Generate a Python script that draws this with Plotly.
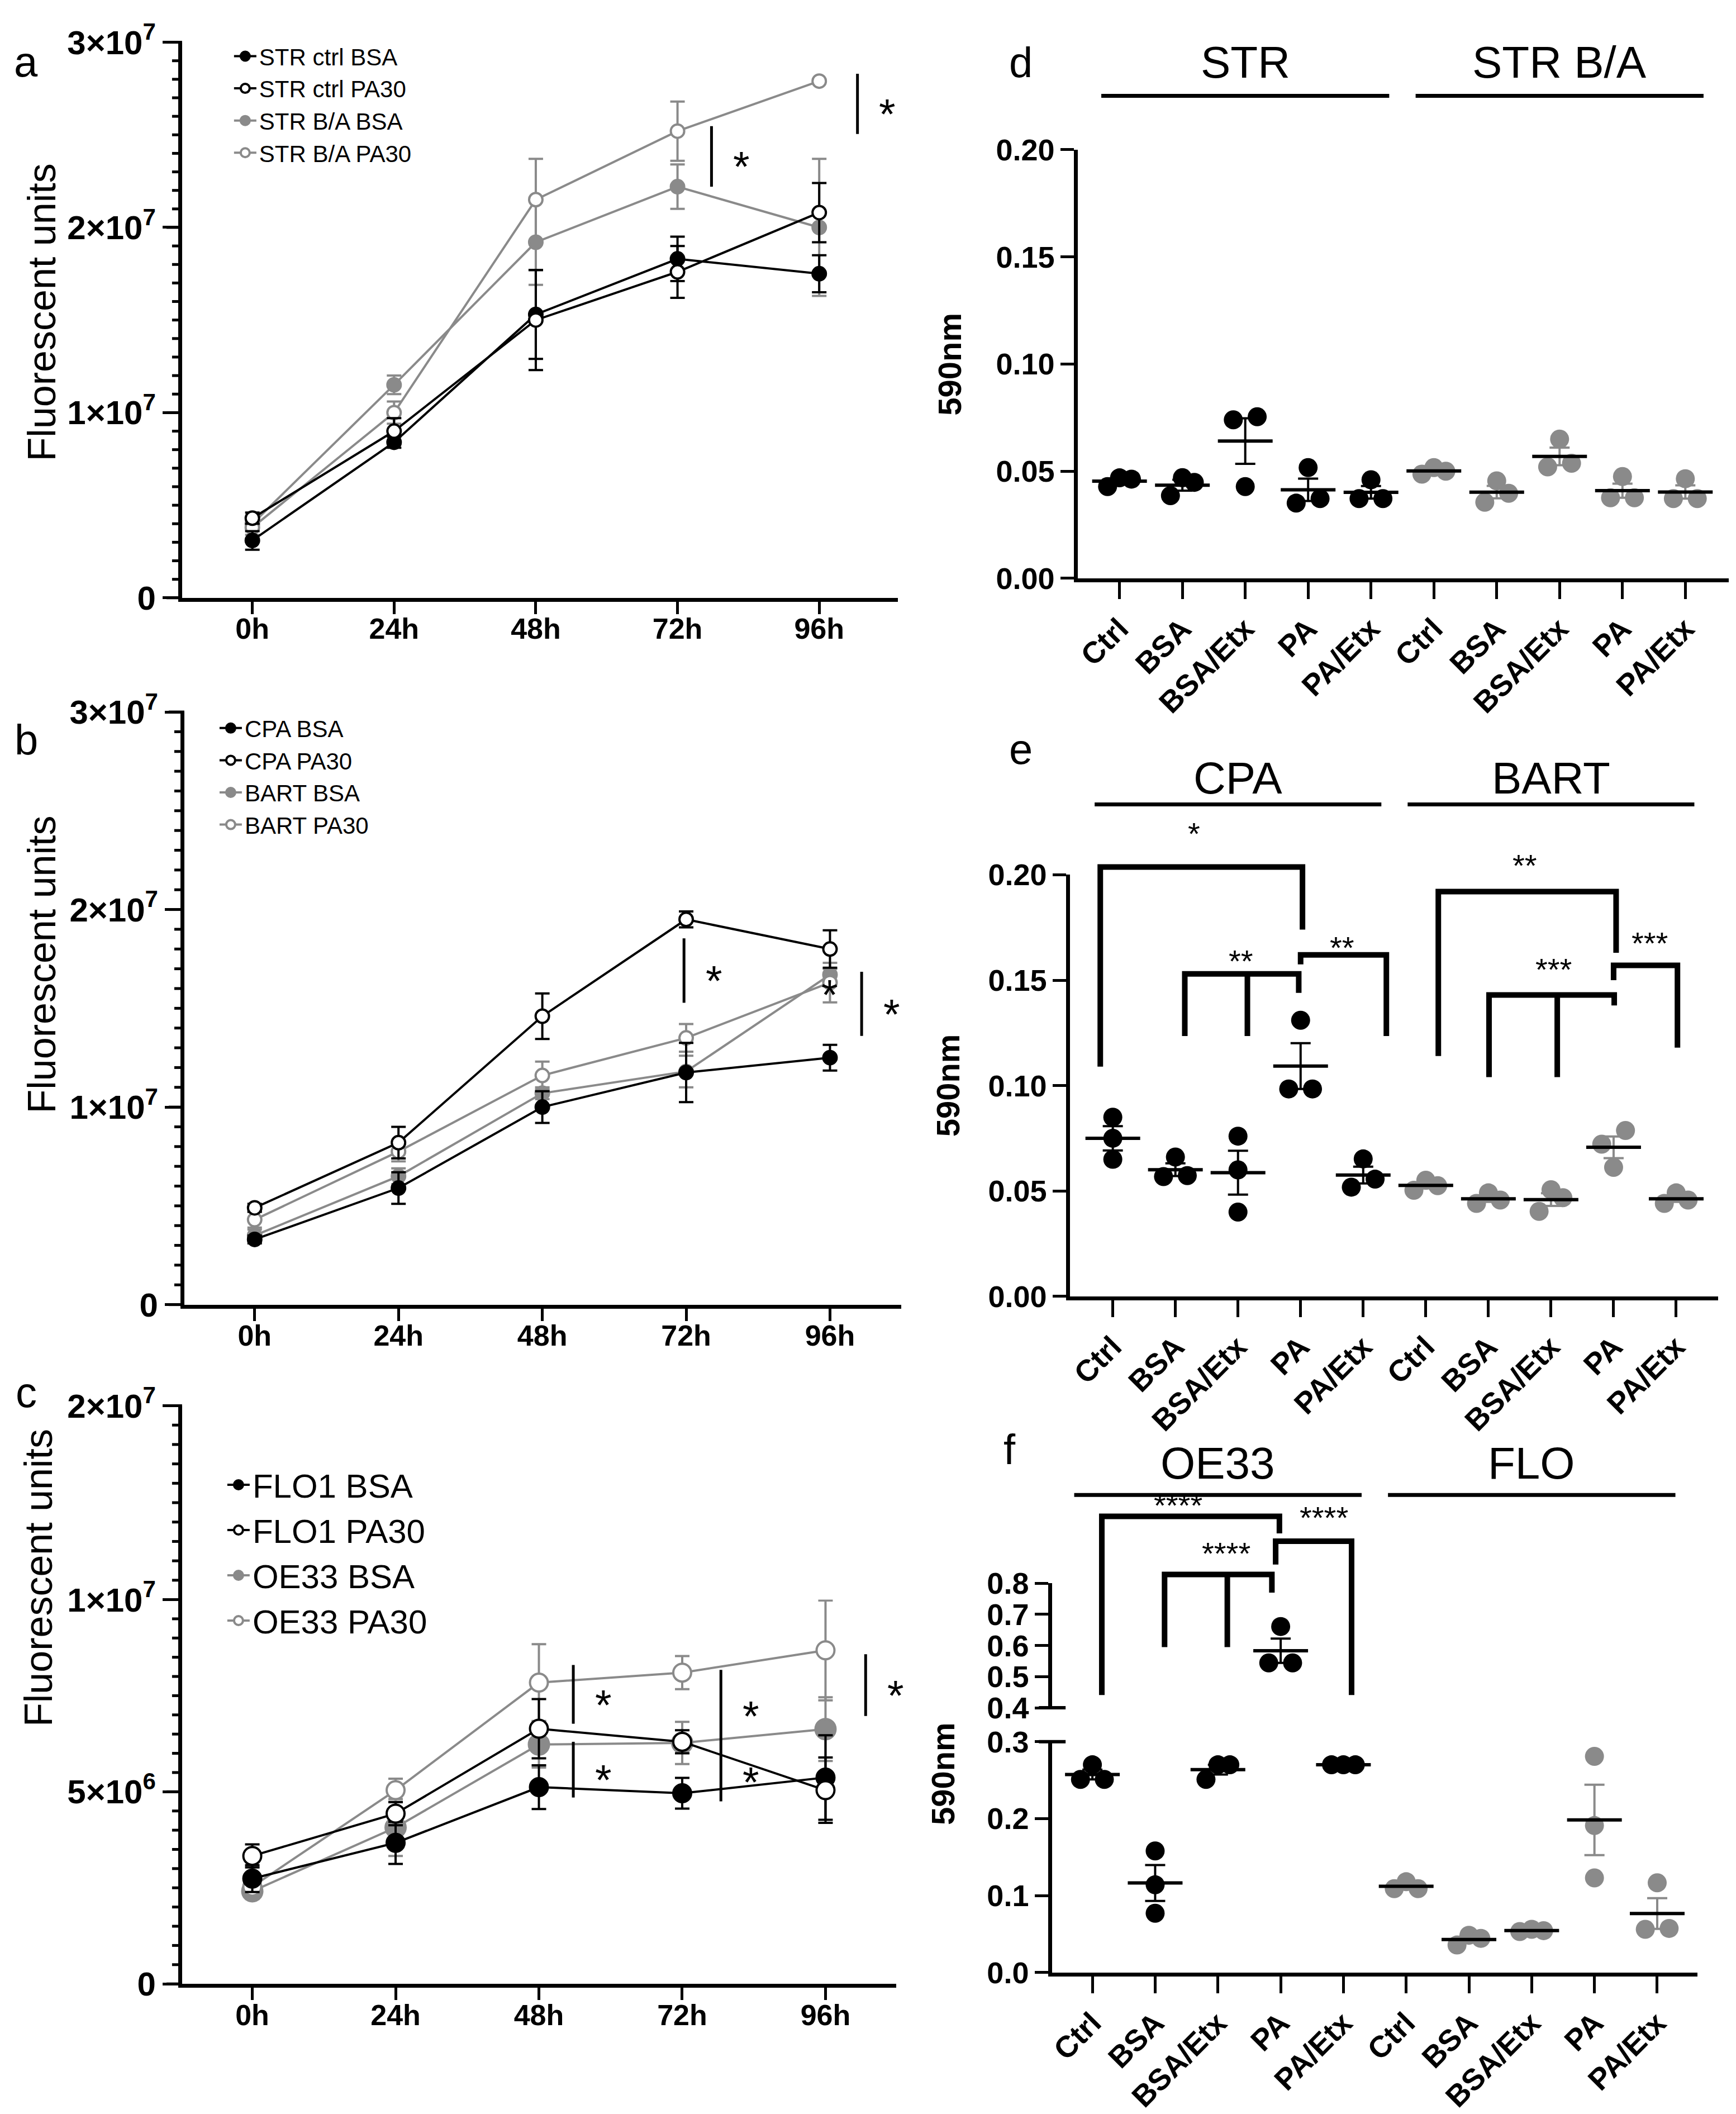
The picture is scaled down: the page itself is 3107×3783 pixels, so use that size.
import numpy as np
import plotly.graph_objects as go

FONT = 'Arial, Liberation Sans, Helvetica, sans-serif'
BLACK = '#000000'
GREY = '#8a8a8a'
W, H = 3107, 3783

# ---------------- data: growth curves (a, b, c) ----------------
hours = ['0h', '24h', '48h', '72h', '96h']

str_ctrl_bsa = [3.1e6, 8.4e6, 1.53e7, 1.83e7, 1.75e7]
str_ctrl_bsa_err = [0.5e6, 0.3e6, 2.4e6, 1.2e6, 1.0e6]
str_ctrl_pa30 = [4.3e6, 9.0e6, 1.50e7, 1.76e7, 2.08e7]
str_ctrl_pa30_err = [0.3e6, 0.7e6, 2.7e6, 1.4e6, 1.6e6]
str_ba_bsa = [4.0e6, 1.15e7, 1.92e7, 2.22e7, 2.0e7]
str_ba_bsa_err = [0.3e6, 0.5e6, 2.3e6, 1.2e6, 3.7e6]
str_ba_pa30 = [3.8e6, 1.0e7, 2.15e7, 2.52e7, 2.79e7]
str_ba_pa30_err = [0.4e6, 0.6e6, 2.2e6, 1.6e6, 0.0]

cpa_bsa = [3.3e6, 5.9e6, 1.0e7, 1.175e7, 1.25e7]
cpa_bsa_err = [0.2e6, 0.8e6, 0.8e6, 1.5e6, 0.65e6]
cpa_pa30 = [4.9e6, 8.2e6, 1.46e7, 1.95e7, 1.8e7]
cpa_pa30_err = [0.2e6, 0.8e6, 1.15e6, 0.4e6, 0.95e6]
bart_bsa = [3.5e6, 6.5e6, 1.07e7, 1.18e7, 1.67e7]
bart_bsa_err = [0.3e6, 0.4e6, 0.3e6, 0.8e6, 0.3e6]
bart_pa30 = [4.3e6, 7.75e6, 1.16e7, 1.35e7, 1.63e7]
bart_pa30_err = [0.4e6, 0.5e6, 0.7e6, 0.7e6, 1.0e6]

flo1_bsa = [2.74e6, 3.67e6, 5.12e6, 4.96e6, 5.37e6]
flo1_bsa_err = [0.35e6, 0.55e6, 0.57e6, 0.4e6, 1.1e6]
flo1_pa30 = [3.33e6, 4.43e6, 6.64e6, 6.3e6, 5.04e6]
flo1_pa30_err = [0.3e6, 0.3e6, 0.77e6, 0.3e6, 0.85e6]
oe33_bsa = [2.41e6, 4.07e6, 6.23e6, 6.27e6, 6.63e6]
oe33_bsa_err = [0.2e6, 0.74e6, 0.6e6, 0.55e6, 0.83e6]
oe33_pa30 = [2.53e6, 5.04e6, 7.84e6, 8.1e6, 8.68e6]
oe33_pa30_err = [0.2e6, 0.3e6, 1.0e6, 0.43e6, 1.3e6]

# significance marks on the growth curves: x position, low, high
a_sig = [(3.24, 2.22e7, 2.547e7), (4.27, 2.505e7, 2.83e7)]
b_sig = [(2.985, 1.528e7, 1.854e7), (4.22, 1.36e7, 1.685e7)]
b_extra_star = [(4.0, 1.62e7)]
c_sig = [(2.24, 6.77e6, 8.3e6), (2.24, 4.85e6, 6.3e6), (3.27, 6.3e6, 8.17e6),
         (3.27, 4.75e6, 6.3e6), (4.28, 6.97e6, 8.58e6)]

# ---------------- data: crystal violet dot plots (d, e, f) ----------------
treatments = ['Ctrl', 'BSA', 'BSA/Etx', 'PA', 'PA/Etx']

d_str = [[0.0428, 0.0469, 0.0463], [0.047, 0.0386, 0.0448], [0.0754, 0.074, 0.0428],
         [0.0517, 0.0351, 0.0372], [0.046, 0.0372, 0.0372]]
d_str_ba = [[0.0486, 0.0517, 0.050], [0.0455, 0.0355, 0.0397], [0.065, 0.052, 0.0537],
            [0.0475, 0.0376, 0.0376], [0.0465, 0.0372, 0.0372]]
e_cpa = [[0.085, 0.075, 0.065], [0.0661, 0.0568, 0.0573], [0.076, 0.060, 0.040],
         [0.131, 0.0984, 0.0984], [0.0652, 0.0518, 0.0556]]
e_bart = [[0.0503, 0.0551, 0.0525], [0.0441, 0.0491, 0.0457], [0.0506, 0.0403, 0.0468],
          [0.0787, 0.0722, 0.0612], [0.0441, 0.0491, 0.0457]]
f_oe33 = [[0.251, 0.27, 0.251], [0.158, 0.114, 0.077], [0.251, 0.27, 0.27],
          [0.661, 0.544, 0.544], [0.27, 0.27, 0.27]]
f_flo = [[0.109, 0.118, 0.109], [0.0357, 0.0484, 0.0444], [0.0532, 0.0561, 0.0544],
         [0.281, 0.191, 0.123], [0.1166, 0.0561, 0.0573]]

# ---------------- geometry (paper fractions) ----------------
ax = {
    'a': dict(x=[0.0997, 0.5133], y=[0.7249, 0.9931], xr=[-0.496, 4.556], yr=[0, 3e7]),
    'b': dict(x=[0.1010, 0.5153], y=[0.3837, 0.6698], xr=[-0.489, 4.497], yr=[0, 3e7]),
    'c': dict(x=[0.0997, 0.5124], y=[0.0558, 0.2413], xr=[-0.49, 4.495], yr=[0, 1e7]),
    'c_up': dict(x=[0.0997, 0.5124], y=[0.2413, 0.3349], yr=[1e7, 2e7]),
    'd': dict(x=[0.6173, 0.9932], y=[0.7343, 0.9412], xr=[-0.66, 9.69], yr=[0, 0.2]),
    'e': dict(x=[0.6128, 0.9871], y=[0.3877, 0.5912], xr=[-0.68, 9.67], yr=[0, 0.2]),
    'f': dict(x=[0.6024, 0.9751], y=[0.0613, 0.1727], xr=[-0.64, 9.64], yr=[0, 0.3]),
    'f_up': dict(y=[0.1891, 0.2492], yr=[0.4, 0.8]),
}


def px(v, dom, rng):
    return dom[0] + (v - rng[0]) / (rng[1] - rng[0]) * (dom[1] - dom[0])


def py_(y_pixel):
    return 1 - y_pixel / H


fig = go.Figure()
shapes, annotations = [], []


def note(x, y, text, size, xref='paper', yref='paper', angle=0, yshift=0):
    annotations.append(dict(xref=xref, yref=yref, x=x, y=y, text=text, showarrow=False,
                            xanchor='center', yanchor='middle', textangle=angle, yshift=yshift,
                            font=dict(family=FONT, size=size, color=BLACK)))


def line_trace(name, y, err, color, hollow, xa, ya, legend, msize, rank):
    return go.Scatter(
        x=list(range(len(hours))), y=y, name=name, mode='lines+markers',
        xaxis=xa, yaxis=ya, legend=legend, legendrank=rank,
        line=dict(color=color, width=4),
        marker=dict(symbol='circle', size=msize, color='white' if hollow else color,
                    line=dict(color=color, width=4)),
        error_y=dict(type='data', array=err, color=color, thickness=4, width=13),
    )


# a
fig.add_trace(line_trace('STR B/A BSA', str_ba_bsa, str_ba_bsa_err, GREY, False, 'x', 'y', 'legend', 24, 3))
fig.add_trace(line_trace('STR B/A PA30', str_ba_pa30, str_ba_pa30_err, GREY, True, 'x', 'y', 'legend', 24, 4))
fig.add_trace(line_trace('STR ctrl BSA', str_ctrl_bsa, str_ctrl_bsa_err, BLACK, False, 'x', 'y', 'legend', 24, 1))
fig.add_trace(line_trace('STR ctrl PA30', str_ctrl_pa30, str_ctrl_pa30_err, BLACK, True, 'x', 'y', 'legend', 24, 2))
# b
fig.add_trace(line_trace('BART BSA', bart_bsa, bart_bsa_err, GREY, False, 'x2', 'y2', 'legend2', 24, 3))
fig.add_trace(line_trace('BART PA30', bart_pa30, bart_pa30_err, GREY, True, 'x2', 'y2', 'legend2', 24, 4))
fig.add_trace(line_trace('CPA BSA', cpa_bsa, cpa_bsa_err, BLACK, False, 'x2', 'y2', 'legend2', 24, 1))
fig.add_trace(line_trace('CPA PA30', cpa_pa30, cpa_pa30_err, BLACK, True, 'x2', 'y2', 'legend2', 24, 2))
# c
fig.add_trace(line_trace('OE33 BSA', oe33_bsa, oe33_bsa_err, GREY, False, 'x3', 'y3', 'legend3', 36, 3))
fig.add_trace(line_trace('OE33 PA30', oe33_pa30, oe33_pa30_err, GREY, True, 'x3', 'y3', 'legend3', 32, 4))
fig.add_trace(line_trace('FLO1 BSA', flo1_bsa, flo1_bsa_err, BLACK, False, 'x3', 'y3', 'legend3', 32, 1))
fig.add_trace(line_trace('FLO1 PA30', flo1_pa30, flo1_pa30_err, BLACK, True, 'x3', 'y3', 'legend3', 32, 2))
fig.add_trace(go.Scatter(x=[None], y=[None], xaxis='x3', yaxis='y8', showlegend=False))


def sig_marks(sig, xa, ya):
    for x, lo, hi in sig:
        shapes.append(dict(type='line', xref=xa, yref=ya, x0=x, x1=x, y0=lo, y1=hi,
                           line=dict(color=BLACK, width=5)))
        note(x + 0.21, (lo + hi) / 2, '*', 76, xa, ya, yshift=-18)


sig_marks(a_sig, 'x', 'y')
sig_marks(b_sig, 'x2', 'y2')
sig_marks(c_sig, 'x3', 'y3')
for x, y in b_extra_star:
    note(x, y, '*', 76, 'x2', 'y2', yshift=-18)


# tick comb of the growth-curve y axes (long ticks every `major`, short ones every `step`)
def tick_comb(key, step, major):
    g = ax[key]
    lo, hi = g['yr']
    x0 = g['x'][0]
    for v in np.arange(lo, hi + step / 2, step):
        long = abs(v / major - round(v / major)) < 1e-6
        y = px(v, g['y'], g['yr'])
        shapes.append(dict(type='line', xref='paper', yref='paper', x0=x0 - (28 if long else 18) / W,
                           x1=x0, y0=y, y1=y, line=dict(color=BLACK, width=5)))


tick_comb('a', 1e6, 1e7)
tick_comb('b', 1e6, 1e7)
tick_comb('c', 5e5, 5e6)
tick_comb('c_up', 1e6, 1e7)


# ---------------- dot plots ----------------
def swarm(vals, thr, step=0.19):
    vals = np.asarray(vals, float)
    order = np.argsort(vals, kind='stable')
    offs = np.zeros(len(vals))
    clusters = [[order[0]]]
    for i in order[1:]:
        if vals[i] - vals[clusters[-1][-1]] < thr:
            clusters[-1].append(i)
        else:
            clusters.append([i])
    for cl in clusters:
        if len(cl) == 2:
            offs[cl[0]], offs[cl[1]] = -step, step
        elif len(cl) >= 3:
            offs[cl[0]], offs[cl[1]], offs[cl[2]] = -step, step, 0.0
    return offs


DOT = 34


def thr_for(key):
    g = ax[key]
    pix = (g['y'][1] - g['y'][0]) * H / (g['yr'][1] - g['yr'][0])
    return DOT * 0.95 / pix


def dot_groups(groups, start, color, xa, ya, key, ya_up=None, key_up=None, brk=None):
    for j, vals in enumerate(groups):
        pos = start + j
        up = brk is not None and np.mean(vals) > brk
        yy = ya_up if up else ya
        offs = swarm(vals, thr_for(key_up if up else key))
        m = float(np.mean(vals))
        sem = float(np.std(vals, ddof=1) / np.sqrt(len(vals)))
        fig.add_trace(go.Scatter(
            x=list(pos + offs), y=vals, mode='markers', xaxis=xa, yaxis=yy, showlegend=False,
            marker=dict(size=DOT, color=color, line=dict(width=0))))
        fig.add_trace(go.Scatter(
            x=[pos], y=[m], mode='markers', xaxis=xa, yaxis=yy, showlegend=False,
            marker=dict(symbol='line-ew', size=70, color=BLACK, line=dict(color=BLACK, width=6)),
            error_y=dict(type='data', array=[sem], color=color, thickness=4, width=18)))


dot_groups(d_str, 0, BLACK, 'x4', 'y4', 'd')
dot_groups(d_str_ba, 5, GREY, 'x4', 'y4', 'd')
dot_groups(e_cpa, 0, BLACK, 'x5', 'y5', 'e')
dot_groups(e_bart, 5, GREY, 'x5', 'y5', 'e')
dot_groups(f_oe33, 0, BLACK, 'x6', 'y6', 'f', 'y7', 'f_up', 0.35)
dot_groups(f_flo, 5, GREY, 'x6', 'y6', 'f', 'y7', 'f_up', 0.35)

# comparison brackets: legs (x, bottom), bar height, label and label position
e_brackets = [
    dict(legs=[(-0.2, 0.109), (3.03, 0.174)], top=0.2037, label='*', lx=1.3, ly=0.223),
    dict(legs=[(1.15, 0.1235), (2.15, 0.1235), (2.97, 0.144)], top=0.153, label='**', lx=2.05, ly=0.1625),
    dict(legs=[(3.0, 0.1575), (4.37, 0.1235)], top=0.162, label='**', lx=3.66, ly=0.169),
    dict(legs=[(5.2, 0.114), (8.04, 0.163)], top=0.192, label='**', lx=6.58, ly=0.208),
    dict(legs=[(6.01, 0.104), (7.1, 0.104), (8.01, 0.138)], top=0.143, label='***', lx=7.04, ly=0.1585),
    dict(legs=[(8.0, 0.15), (9.02, 0.118)], top=0.157, label='***', lx=8.58, ly=0.171),
]
f_brackets = [
    dict(legs=[(0.15, 0.441), (2.98, 0.96)], top=1.015, label='****', lx=1.37, ly=1.075),
    dict(legs=[(1.15, 0.595), (2.15, 0.595), (2.86, 0.77)], top=0.828, label='****', lx=2.13, ly=0.92),
    dict(legs=[(2.92, 0.86), (4.13, 0.441)], top=0.935, label='****', lx=3.69, ly=1.035),
]


def draw_brackets(brackets, xkey, ykey):
    gx, gy = ax[xkey], ax[ykey]
    for b in brackets:
        legs = b['legs']
        X = [px(x, gx['x'], gx['xr']) for x, _ in legs]
        Yb = [px(y, gy['y'], gy['yr']) for _, y in legs]
        T = px(b['top'], gy['y'], gy['yr'])
        path = f'M {X[0]},{Yb[0]} L {X[0]},{T} L {X[-1]},{T} L {X[-1]},{Yb[-1]}'
        for xm, ym in zip(X[1:-1], Yb[1:-1]):
            path += f' M {xm},{T} L {xm},{ym}'
        shapes.append(dict(type='path', xref='paper', yref='paper', path=path,
                           line=dict(color=BLACK, width=10)))
        note(px(b['lx'], gx['x'], gx['xr']), px(b['ly'], gy['y'], gy['yr']), b['label'], 56, yshift=-13)


draw_brackets(e_brackets, 'e', 'e')
draw_brackets(f_brackets, 'f', 'f_up')

# axis break marks on panel f
fx = ax['f']['x'][0]
for yb in [ax['f']['y'][1], ax['f_up']['y'][0]]:
    shapes.append(dict(type='line', xref='paper', yref='paper', x0=fx - 24 / W, x1=fx + 24 / W,
                       y0=yb, y1=yb, line=dict(color=BLACK, width=6)))


# group headers above the dot plots
def header(key, names, line_px, text_px):
    g = ax[key]
    for c, name in zip([2, 7], names):
        x0 = px(c - 2.29, g['x'], g['xr'])
        x1 = px(c + 2.29, g['x'], g['xr'])
        shapes.append(dict(type='line', xref='paper', yref='paper', x0=x0, x1=x1,
                           y0=py_(line_px), y1=py_(line_px), line=dict(color=BLACK, width=7)))
        note((x0 + x1) / 2, py_(text_px), name, 80)


header('d', ['STR', 'STR B/A'], 124, 63)
header('e', ['CPA', 'BART'], 1418, 1370)
header('f', ['OE33', 'FLO'], 2679, 2621)

# panel letters and axis titles
for letter, (lx, ly) in zip('abcdef', [(30, 62), (30, 1300), (30, 2492),
                                        (1815, 63), (1815, 1317), (1795, 2596)]):
    note(lx / W, py_(ly), letter, 76)
for (tx, ty) in [(58, 519), (58, 1710), (52, 2830)]:
    note(tx / W, py_(ty), 'Fluorescent units', 70, angle=-90)
for (tx, ty) in [(1688, 614), (1684, 1931), (1676, 3188)]:
    note(tx / W, py_(ty), '<b>590nm</b>', 58, angle=-90)


# ---------------- axes ----------------
def time_x(key, anchor):
    g = ax[key]
    return dict(domain=g['x'], range=g['xr'], anchor=anchor, tickmode='array',
                tickvals=list(range(len(hours))), ticktext=hours,
                showline=True, linecolor=BLACK, linewidth=7, ticks='outside', ticklen=22,
                tickwidth=5, tickcolor=BLACK, showgrid=False, zeroline=False,
                ticklabelstandoff=-18,
                tickfont=dict(family=FONT, size=52, color=BLACK, weight='bold'))


def sci(v):
    e = int(np.floor(np.log10(v)))
    return f'{v / 10 ** e:g}×10<sup>{e}</sup>'


def num_y(key, anchor, labelled):
    g = ax[key]
    return dict(domain=g['y'], range=g['yr'], anchor=anchor, tickmode='array', tickvals=labelled,
                ticktext=['0' if v == 0 else sci(v) for v in labelled],
                showline=True, linecolor=BLACK, linewidth=7, ticks='outside',
                ticklen=28, tickwidth=5, tickcolor=BLACK, showgrid=False, zeroline=False,
                tickfont=dict(family=FONT, size=60, color=BLACK, weight='bold'))


def cat_x(key, anchor):
    g = ax[key]
    return dict(domain=g['x'], range=g['xr'], anchor=anchor, tickmode='array',
                tickvals=list(range(10)), ticktext=treatments * 2, tickangle=-45,
                showline=True, linecolor=BLACK, linewidth=7, ticks='outside', ticklen=30,
                tickwidth=5, tickcolor=BLACK, showgrid=False, zeroline=False,
                tickfont=dict(family=FONT, size=54, color=BLACK, weight='bold'))


def od_y(key, anchor, step, fmt):
    g = ax[key]
    rng = g['yr']
    vals = list(np.round(np.arange(rng[0], rng[1] + step / 2, step), 3))
    return dict(domain=g['y'], range=rng, anchor=anchor, tickmode='array', tickvals=vals,
                ticktext=[format(v, fmt) for v in vals], showline=True, linecolor=BLACK,
                linewidth=7, ticks='outside', ticklen=24, tickwidth=5, tickcolor=BLACK,
                showgrid=False, zeroline=False,
                tickfont=dict(family=FONT, size=54, color=BLACK, weight='bold'))


def leg(x_px, top_px, size, iw):
    return dict(x=x_px / W, y=py_(top_px), xanchor='left', yanchor='top', bgcolor='rgba(0,0,0,0)',
                font=dict(family=FONT, size=size, color=BLACK), itemwidth=iw, tracegroupgap=0)


layout = dict(
    width=W, height=H, margin=dict(l=0, r=0, t=0, b=0),
    paper_bgcolor='white', plot_bgcolor='white',
    font=dict(family=FONT, color=BLACK),
    xaxis=time_x('a', 'y'),
    yaxis=num_y('a', 'x', [0, 1e7, 2e7, 3e7]),
    xaxis2=time_x('b', 'y2'),
    yaxis2=num_y('b', 'x2', [0, 1e7, 2e7, 3e7]),
    xaxis3=time_x('c', 'y3'),
    yaxis3=num_y('c', 'x3', [0, 5e6, 1e7]),
    yaxis8=num_y('c_up', 'x3', [2e7]),
    xaxis4=cat_x('d', 'y4'),
    yaxis4=od_y('d', 'x4', 0.05, '.2f'),
    xaxis5=cat_x('e', 'y5'),
    yaxis5=od_y('e', 'x5', 0.05, '.2f'),
    xaxis6=cat_x('f', 'y6'),
    yaxis6=od_y('f', 'x6', 0.1, '.1f'),
    yaxis7=od_y('f_up', 'x6', 0.1, '.1f'),
    legend=leg(398, 17, 42, 40),
    legend2=leg(372, 1244, 42, 40),
    legend3=leg(386, 2614, 60, 40),
    shapes=shapes,
    annotations=annotations,
)
fig.update_layout(layout)
fig.write_html('out.html')
